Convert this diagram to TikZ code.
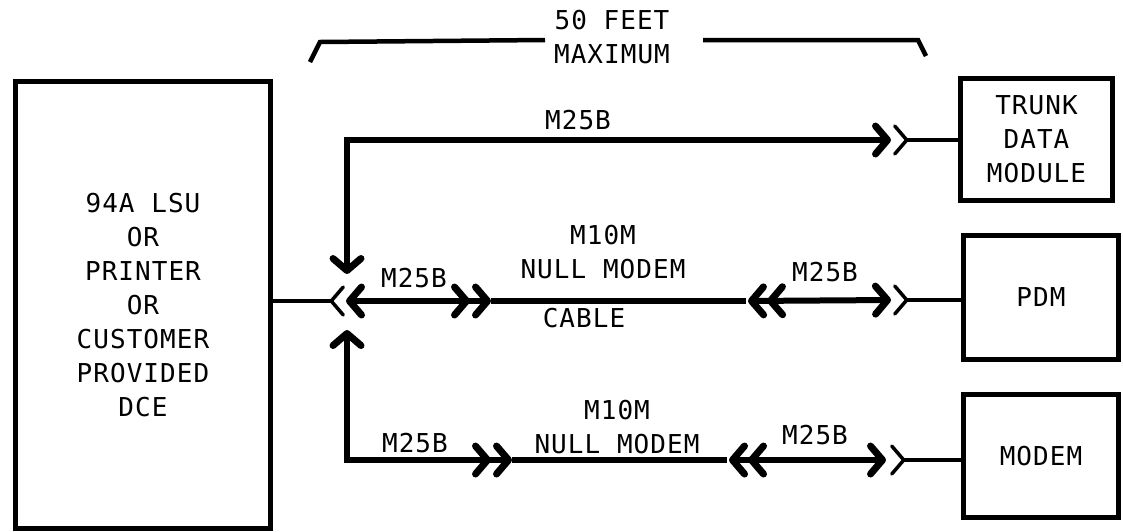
\documentclass[tikz,border=0pt]{standalone}
\usepackage{fontspec}
\newfontfamily\diagfont[LetterSpace=4]{DejaVu Sans Mono}
\usetikzlibrary{arrows.meta}

\tikzset{
  unit/.style={draw, line width=5pt, inner sep=0pt, align=center},
  cable/.style={line width=6pt},
  stub/.style={line width=3.5pt},
  dim/.style={line width=4.5pt},
  tag/.style={inner sep=0pt, align=center},
  male/.tip={Straight Barb[length=12pt,width=28pt,line width=7pt,round]},
  female/.tip={Straight Barb[length=12pt,width=28pt,line width=3.5pt,round,reversed]},
}

\begin{document}
\begin{tikzpicture}[x=1pt,y=-1pt,font=\diagfont\fontsize{26}{34}\selectfont]
\useasboundingbox (0,0) rectangle (1123,531);

% equipment
\node[unit, minimum width=255pt, minimum height=447pt] (lsu) at (143,305) {94A LSU\\OR\\PRINTER\\OR\\CUSTOMER\\PROVIDED\\DCE};
\node[unit, minimum width=152pt, minimum height=122pt] (tdm) at (1036.5,139) {TRUNK\\DATA\\MODULE};
\node[unit, minimum width=155pt, minimum height=124pt] (pdm) at (1041,297.5) {PDM};
\node[unit, minimum width=155pt, minimum height=123pt] (modem) at (1041,456) {MODEM};

% cable labels
\node[tag] (lim) at (612,37) {50 FEET\\MAXIMUM};
\node[tag] (tcab) at (578,120) {M25B};
\node[tag] (mcabA) at (414,278) {M25B};
\node[tag] (mnull) at (603,252) {M10M\\NULL MODEM};
\node[tag] (mcable) at (584,318) {CABLE};
\node[tag] (mcabB) at (825,272) {M25B};
\node[tag] (bcabA) at (415,443) {M25B};
\node[tag] (bnull) at (617,427) {M10M\\NULL MODEM};
\node[tag] (bcabB) at (815,435) {M25B};

% plug points
\coordinate (jtop) at (347,274);
\coordinate (jbot) at (347,330);
\coordinate (jack) at (345,301);
\coordinate (ma) at (346,301);
\coordinate (mb) at (491,301);
\coordinate (mc) at (746,301);
\coordinate (md) at (891,300);
\coordinate (me) at (893,300);
\coordinate (ta) at (891,140);
\coordinate (tb) at (893,140);
\coordinate (ba) at (512,460);
\coordinate (bb) at (727,460);
\coordinate (bc) at (886,460);
\coordinate (bd) at (890,460);

% 50 feet limit
\draw[dim] (310,62) -- (320,42) -- (545,40);
\draw[dim] (703,40) -- (918,40) -- (926,56);

\draw[stub,line width=4.5pt,-female] (lsu.east |- jack) -- (jack);
\draw[cable,male-male] (jtop) |- (ta);
\draw[stub,female-] (tb) -- (tdm.west |- tb);
\draw[cable,male-{male[sep=2pt]male}] (ma) -- (mb);
\draw[cable] (mb) -- (mc);
\draw[cable,{male[sep=2pt]male}-male] (mc) -- (md);
\draw[stub,female-] (me) -- (pdm.west |- me);
\draw[cable,male-{male[sep=2pt]male}] (jbot) |- (ba);
\draw[cable] (ba) -- (bb);
\draw[cable,{male[sep=2pt]male}-male] (bb) -- (bc);
\draw[stub,female-] (bd) -- (modem.west |- bd);
\end{tikzpicture}
\end{document}
